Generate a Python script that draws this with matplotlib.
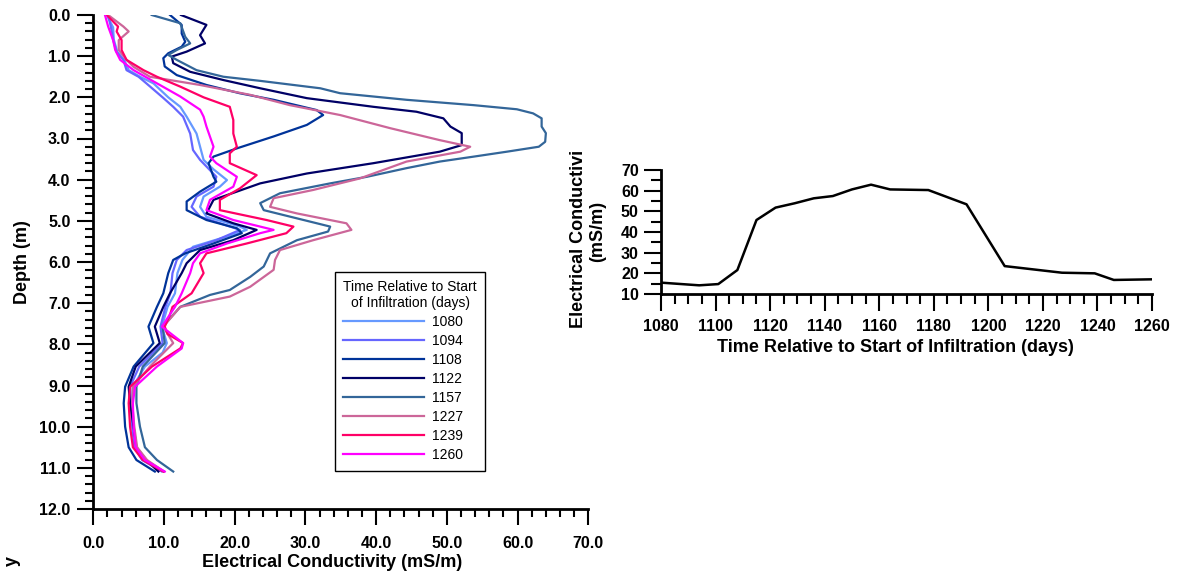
import matplotlib
matplotlib.use('Agg')
import matplotlib.pyplot as plt
from matplotlib.ticker import MultipleLocator, FormatStrFormatter
from matplotlib.transforms import Bbox, TransformedBbox

plt.rcParams['font.family'] = ['Liberation Sans', 'DejaVu Sans']
plt.rcParams['font.weight'] = 'bold'

# ---------------- Left panel: EC profiles vs depth ----------------
labels = ['1080', '1094', '1108', '1122', '1157', '1227', '1239', '1260']
colors = ['#6699FF', '#6666FF', '#003399', '#000066', '#336699', '#CC6699', '#FF0066', '#FF00FF']

depth_1080 = [0, 0.3, 0.6, 0.9, 1.1, 1.34, 1.5, 1.66, 2.0, 2.23, 2.47, 2.88, 3.2, 3.52, 3.75, 4.01,
              4.17, 4.41, 4.66, 4.9, 5.14, 5.22, 5.38, 5.63, 5.95, 6.27, 6.76, 7.09, 7.57, 7.97,
              8.2, 8.54, 9.03, 9.43, 10.0, 10.5, 10.81, 11.09]
ec_1080 = [1.9, 2.8, 2.9, 3.4, 4.4, 5.0, 6.6, 8.5, 10.6, 12.3, 13.2, 14.6, 15.1, 15.6, 17.0, 18.9,
           17.9, 15.6, 15.1, 16.0, 20.75, 21.7, 18.9, 14.1, 12.6, 11.9, 11.55, 10.5, 9.7, 10.4,
           9.8, 7.3, 5.6, 5.5, 5.7, 6.0, 7.2, 10.0]

depth_1094 = [0, 0.3, 0.6, 0.9, 1.09, 1.34, 1.5, 1.66, 2.0, 2.23, 2.47, 2.88, 3.28, 3.52, 3.93, 4.17,
              4.41, 4.66, 4.9, 5.22, 5.47, 5.71, 5.95, 6.27, 6.76, 7.09, 7.57, 7.97, 8.54, 9.03,
              9.43, 10.0, 10.5, 10.81, 11.09]
ec_1094 = [2.1, 2.5, 2.8, 3.3, 4.25, 4.7, 6.4, 7.5, 9.8, 11.3, 12.7, 13.7, 14.1, 15.1, 17.4, 17.0,
           14.6, 13.9, 15.1, 20.75, 17.4, 13.2, 11.8, 11.2, 10.9, 10.2, 9.5, 9.8, 6.5, 5.2,
           5.3, 5.5, 5.8, 6.9, 9.7]

depth_1108 = [0, 0.24, 0.45, 0.65, 0.77, 0.93, 1.05, 1.25, 1.46, 1.7, 1.9, 2.06, 2.31, 2.43, 2.67,
              2.95, 3.24, 3.44, 3.6, 3.93, 4.05, 4.29, 4.53, 4.74, 4.98, 5.18, 5.3, 5.55, 5.79,
              5.95, 6.27, 6.76, 7.09, 7.57, 7.97, 8.54, 9.03, 9.43, 10.0, 10.5, 10.81, 11.09]
ec_1108 = [10.85, 12.5, 12.5, 13.0, 12.5, 10.6, 9.9, 10.1, 11.8, 16.0, 20.7, 25.5, 31.6, 32.5, 30.2,
           25.5, 20.3, 17.0, 16.3, 17.0, 17.4, 15.1, 13.2, 13.2, 16.0, 20.3, 21.0, 17.0, 13.0,
           11.3, 10.6, 9.9, 9.0, 7.8, 8.5, 5.7, 4.5, 4.3, 4.5, 5.0, 6.1, 8.7]

depth_1122 = [0, 0.24, 0.49, 0.69, 0.89, 1.01, 1.17, 1.38, 1.58, 1.78, 2.02, 2.23, 2.35, 2.51, 2.71,
              2.87, 3.16, 3.32, 3.6, 3.85, 4.09, 4.29, 4.49, 4.82, 5.06, 5.22, 5.47, 5.71, 6.03,
              6.27, 6.76, 7.09, 7.57, 7.97, 8.54, 9.03, 9.43, 10.0, 10.5, 10.81, 11.09]
ec_1122 = [12.4, 16.0, 15.1, 15.8, 13.2, 11.1, 11.3, 13.7, 18.4, 23.6, 30.2, 39.6, 45.7, 49.5, 50.5,
           52.1, 52.1, 49.0, 39.6, 30.2, 23.6, 20.3, 17.0, 16.0, 19.8, 23.1, 19.8, 15.1, 13.2,
           12.5, 10.85, 9.9, 8.7, 9.4, 6.0, 5.0, 5.2, 5.7, 6.1, 7.5, 9.2]

depth_1157 = [0, 0.2, 0.53, 0.69, 0.85, 0.97, 1.09, 1.34, 1.5, 1.6, 1.78, 1.9, 2.06, 2.19, 2.29,
              2.39, 2.51, 2.71, 2.87, 3.08, 3.2, 3.32, 3.44, 3.56, 3.72, 3.93, 4.09, 4.33, 4.57,
              4.74, 4.94, 5.14, 5.26, 5.47, 5.79, 6.11, 6.36, 6.68, 6.8, 7.09, 7.57, 7.97, 8.54,
              9.03, 9.43, 10.0, 10.5, 10.81, 11.09]
ec_1157 = [8.26, 12.3, 13.0, 13.7, 11.8, 10.6, 11.8, 14.6, 18.4, 23.6, 32.1, 34.9, 44.3, 53.8, 59.9,
           62.2, 63.4, 63.4, 64.0, 63.9, 63.0, 58.5, 53.8, 49.0, 44.3, 38.7, 33.5, 26.4, 23.6,
           24.1, 28.8, 33.5, 33.2, 28.8, 25.0, 24.1, 22.2, 19.3, 16.5, 12.3, 9.8, 10.1, 7.0,
           6.1, 6.1, 6.6, 7.3, 9.0, 11.3]

depth_1227 = [0, 0.28, 0.4, 0.61, 0.85, 1.09, 1.26, 1.5, 1.7, 1.94, 2.19, 2.43, 2.75, 3.04, 3.2,
              3.32, 3.56, 3.97, 4.25, 4.45, 4.66, 4.82, 5.06, 5.22, 5.47, 5.71, 5.95, 6.19, 6.6,
              6.84, 7.09, 7.57, 7.97, 8.54, 9.03, 9.43, 10.0, 10.5, 10.81, 11.09]
ec_1227 = [2.1, 4.25, 5.0, 3.6, 3.6, 4.7, 5.7, 8.0, 15.1, 22.2, 27.8, 34.9, 42.0, 49.0, 53.3,
           51.9, 44.3, 37.7, 31.1, 25.5, 25.0, 28.8, 35.8, 36.5, 31.1, 26.4, 25.7, 25.5, 22.2,
           19.3, 12.3, 9.9, 11.3, 8.0, 5.6, 5.5, 5.8, 6.2, 7.6, 10.0]

depth_1239 = [0, 0.28, 0.4, 0.61, 0.85, 1.09, 1.34, 1.5, 1.74, 2.0, 2.23, 2.55, 2.88, 3.2, 3.36,
              3.6, 3.89, 4.21, 4.49, 4.74, 4.98, 5.14, 5.3, 5.55, 5.79, 6.03, 6.27, 6.76, 7.09,
              7.3, 7.57, 7.75, 7.97, 8.1, 8.54, 9.03, 9.43, 10.0, 10.5, 10.81, 11.09]
ec_1239 = [1.9, 3.5, 3.3, 4.0, 4.0, 4.7, 7.1, 9.0, 12.3, 15.6, 19.3, 19.8, 19.8, 20.3, 19.3,
           19.3, 23.1, 20.75, 17.9, 17.9, 24.5, 28.3, 27.3, 21.7, 16.0, 15.1, 15.6, 13.9, 11.2,
           10.8, 10.1, 10.5, 12.7, 12.3, 8.3, 5.2, 5.0, 5.2, 5.6, 7.0, 9.9]

depth_1260 = [0, 0.28, 0.61, 0.85, 1.09, 1.34, 1.66, 1.98, 2.3, 2.47, 2.71, 3.2, 3.44, 3.6, 3.93,
              4.17, 4.49, 4.74, 4.98, 5.22, 5.3, 5.55, 5.79, 6.03, 6.27, 6.76, 7.09, 7.57, 7.97,
              8.1, 8.54, 9.03, 9.43, 10.0, 10.5, 10.81, 11.09]
ec_1260 = [1.65, 2.1, 2.8, 3.1, 3.8, 5.7, 9.0, 12.3, 15.1, 15.6, 16.0, 17.0, 16.5, 17.4, 20.3,
           19.8, 16.5, 16.0, 19.8, 25.5, 23.6, 18.9, 15.1, 14.1, 13.7, 12.5, 11.55, 9.7, 12.7,
           12.5, 9.0, 5.9, 5.6, 5.7, 6.0, 7.3, 10.1]

depths = [depth_1080, depth_1094, depth_1108, depth_1122, depth_1157, depth_1227, depth_1239, depth_1260]
ecs = [ec_1080, ec_1094, ec_1108, ec_1122, ec_1157, ec_1227, ec_1239, ec_1260]

# ---------------- Right panel: EC vs time ----------------
days = [1080, 1094, 1101, 1108, 1115, 1122, 1129, 1136, 1143, 1150, 1157, 1164, 1178, 1192,
        1206, 1227, 1239, 1246, 1260]
ec_time = [15.5, 14.2, 14.8, 21.6, 45.8, 51.8, 53.9, 56.3, 57.4, 60.6, 62.9, 60.6, 60.3, 53.4,
           23.5, 20.3, 20.0, 16.8, 17.1]

W, H = 1179, 575
fig = plt.figure(figsize=(W / 100, H / 100), dpi=100)

TICK_FS = 11.5
LABEL_FS = 13
LEG_FS = 10

# Left axes
ax = fig.add_axes([93.3 / W, 1 - 509 / H, 495 / W, 494 / H])
for d, v, c, lab in zip(depths, ecs, colors, labels):
    ax.plot(v, d, color=c, lw=1.6, label=lab, solid_joinstyle='round')
ax.set_xlim(0, 70)
ax.set_ylim(12, 0)
for s in ['top', 'right']:
    ax.spines[s].set_visible(False)
for s in ['left', 'bottom']:
    ax.spines[s].set_linewidth(2)
ax.xaxis.set_major_locator(MultipleLocator(10))
ax.xaxis.set_minor_locator(MultipleLocator(2))
ax.yaxis.set_major_locator(MultipleLocator(1))
ax.yaxis.set_minor_locator(MultipleLocator(0.2))
ax.xaxis.set_major_formatter(FormatStrFormatter('%.1f'))
ax.yaxis.set_major_formatter(FormatStrFormatter('%.1f'))
ax.tick_params(which='major', direction='out', length=11.5, width=1.5, labelsize=TICK_FS)
ax.tick_params(which='minor', direction='out', length=6, width=1.5)
ax.tick_params(axis='x', which='major', pad=8)
ax.tick_params(axis='y', which='major', pad=5)
ax.set_xlabel('Electrical Conductivity (mS/m)', fontsize=LABEL_FS, fontweight='bold')
ax.set_ylabel('Depth (m)', fontsize=LABEL_FS, fontweight='bold')
ax.xaxis.set_label_coords(0.482, -0.091)
ax.yaxis.set_label_coords(-0.125, 0.5)

leg = ax.legend(loc='upper left', bbox_to_anchor=(335 / W, 1 - 271.7 / H),
                bbox_transform=fig.transFigure,
                title='Time Relative to Start\nof Infiltration (days)',
                prop={'size': LEG_FS, 'weight': 'normal'},
                title_fontproperties={'size': LEG_FS, 'weight': 'normal'},
                frameon=True, fancybox=False, edgecolor='black', framealpha=1,
                handlelength=5.8, handletextpad=0.55, labelspacing=0.36,
                borderpad=0.6, borderaxespad=0, alignment='left')
leg.get_frame().set_linewidth(1.0)
leg.get_title().set_multialignment('center')
for ln in leg.get_lines():
    ln.set_linewidth(1.6)

# Right axes
ax2 = fig.add_axes([661 / W, 1 - 294 / H, 491 / W, 124 / H])
ax2.plot(days, ec_time, color='black', lw=1.8)
ax2.set_xlim(1080, 1260)
ax2.set_ylim(10, 70)
for s in ['top', 'right']:
    ax2.spines[s].set_visible(False)
for s in ['left', 'bottom']:
    ax2.spines[s].set_linewidth(2)
ax2.xaxis.set_major_locator(MultipleLocator(20))
ax2.xaxis.set_minor_locator(MultipleLocator(5))
ax2.yaxis.set_major_locator(MultipleLocator(10))
ax2.yaxis.set_minor_locator(MultipleLocator(5))
ax2.tick_params(which='major', direction='out', length=12, width=1.5, labelsize=TICK_FS)
ax2.tick_params(which='minor', direction='out', length=7, width=1.5)
ax2.tick_params(axis='x', which='major', pad=6)
ax2.tick_params(axis='y', which='major', pad=4)
ax2.set_xlabel('Time Relative to Start of Infiltration (days)', fontsize=LABEL_FS, fontweight='bold')
ax2.xaxis.set_label_coords(0.477, -0.36)

ylab = fig.text(588 / W, 1 - 231 / H, 'Electrical Conductivity\n(mS/m)', rotation=90,
                ha='center', va='center', multialignment='center',
                fontsize=LABEL_FS, fontweight='bold')
ylab.set_clip_box(TransformedBbox(Bbox([[0, 0], [1, 1 - 151 / H]]), fig.transFigure))

fig.text(12 / W, 1 - 556 / H, 'y', rotation=90, ha='center', va='top',
         fontsize=LABEL_FS, fontweight='bold')

fig.savefig('out.png', dpi=100)
